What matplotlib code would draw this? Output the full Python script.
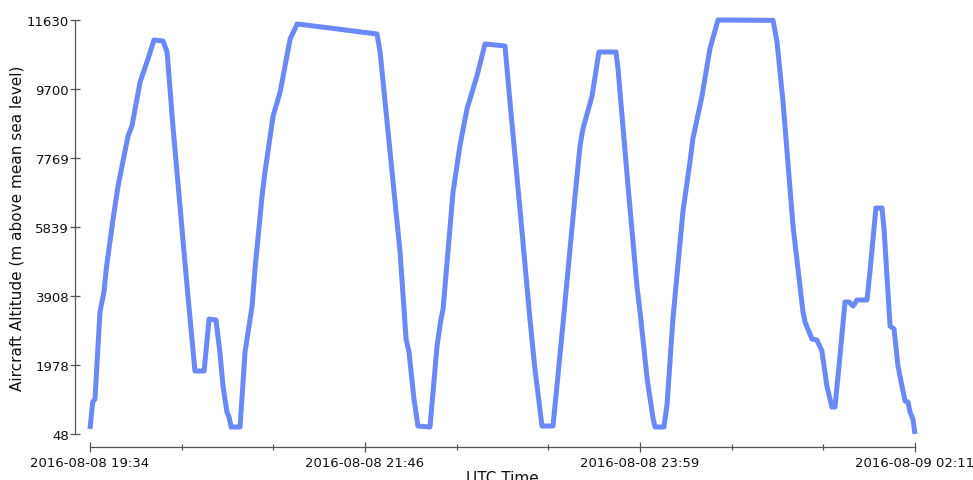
import numpy as np
import matplotlib
matplotlib.use("Agg")
import matplotlib.pyplot as plt
from matplotlib.ticker import FixedLocator

# minutes since 2016-08-08 19:34 UTC
minutes = [0, 1.3, 2.4, 4.8, 6.7, 8.0, 11.1, 13.5, 18.3, 20.2, 24.1, 27.9, 30.8, 35.1,
           37.1, 39.9, 46.7, 50.5, 54.9, 57.3, 60.6, 62.5, 64.0, 65.9, 66.9, 67.9, 72.2,
           74.6, 78.0, 79.4, 82.8, 84.2, 88.1, 91.5, 96.3, 99.7, 115.5, 126.6, 138.1,
           139.6, 144.4, 149.2, 152.1, 153.5, 155.9, 157.8, 163.6, 167.0, 168.9, 169.9,
           174.7, 178.0, 181.4, 186.2, 190.1, 199.7, 202.1, 206.9, 211.7, 214.1, 217.5,
           222.8, 227.6, 233.4, 235.8, 237.2, 241.6, 244.9, 253.1, 254.1, 258.9, 263.2,
           264.7, 268.1, 271.0, 271.9, 276.2, 277.7, 280.5, 285.3, 288.7, 290.1, 294.5,
           298.3, 302.2, 328.7, 330.6, 333.5, 338.3, 343.1, 344.1, 347.4, 349.8, 352.2,
           354.6, 357.0, 358.5, 360.9, 363.3, 365.2, 367.2, 369.1, 373.9, 375.3, 378.2,
           381.1, 382.1, 385.0, 386.9, 388.8, 392.2, 393.6, 394.6, 396.0, 397.0]
altitude = [188, 943, 1027, 3461, 4021, 4748, 6063, 6986, 8385, 8665, 9896, 10539, 11071,
            11043, 10735, 8665, 4188, 1811, 1811, 3265, 3237, 2342, 1391, 663, 524, 244,
            244, 2342, 3629, 4664, 6706, 7378, 8944, 9616, 11098, 11518, 11406, 11322,
            11238, 10735, 7937, 5140, 2706, 2342, 1027, 272, 244, 2510, 3265, 3545, 6818,
            8105, 9140, 10063, 10959, 10903, 9336, 6342, 3265, 1867, 272, 272, 3125, 6706,
            8105, 8581, 9504, 10735, 10735, 10259, 6986, 4188, 3461, 1587, 468, 244, 244,
            887, 3265, 6259, 7657, 8301, 9504, 10819, 11630, 11620, 11015, 9336, 5867,
            3461, 3181, 2706, 2678, 2370, 1391, 803, 803, 2230, 3741, 3741, 3629, 3797,
            3797, 4580, 6371, 6371, 5783, 3069, 2985, 1950, 971, 943, 663, 468, 48]

y_ticks = [48, 1978, 3908, 5839, 7769, 9700, 11630]
x_major = [0, 132.33, 264.67, 397]
x_labels = ["2016-08-08 19:34", "2016-08-08 21:46", "2016-08-08 23:59", "2016-08-09 02:11"]
x_minor = [44.1, 88.2, 176.4, 220.6, 308.8, 352.9]

W, H = 973, 481
fig = plt.figure(figsize=(W / 100, H / 100), dpi=100)
ax = fig.add_axes([90 / W, 1 - 435 / H, 825 / W, 414 / H])

ax.plot(minutes, altitude, color="#6b88f7", lw=3.6, solid_joinstyle="round",
        solid_capstyle="butt", clip_on=False)

ax.set_xlim(0, 397)
ax.set_ylim(48, 11630)

for s in ["top", "right"]:
    ax.spines[s].set_visible(False)
ax.spines["left"].set_position(("outward", 11))
ax.spines["bottom"].set_position(("outward", 9))
for s in ["left", "bottom"]:
    ax.spines[s].set_color("#555555")
    ax.spines[s].set_linewidth(0.9)

ax.set_yticks(y_ticks)
ax.set_yticklabels([str(v) for v in y_ticks])
ax.set_xticks(x_major)
ax.set_xticklabels(x_labels)
ax.xaxis.set_minor_locator(FixedLocator(x_minor))

ax.tick_params(axis="both", which="major", direction="inout", length=7, width=0.9,
               color="#555555", labelsize=9.5, labelcolor="#111111", pad=3)
ax.tick_params(axis="y", which="major", pad=0.5)
ax.tick_params(axis="x", which="minor", direction="inout", length=5, width=0.9,
               color="#555555")

ax.set_ylabel("Aircraft Altitude (m above mean sea level)", fontsize=11, color="#111111",
              labelpad=2)
ax.set_xlabel("UTC Time", fontsize=11, color="#111111", labelpad=1)

fig.savefig("out.png", dpi=100)
